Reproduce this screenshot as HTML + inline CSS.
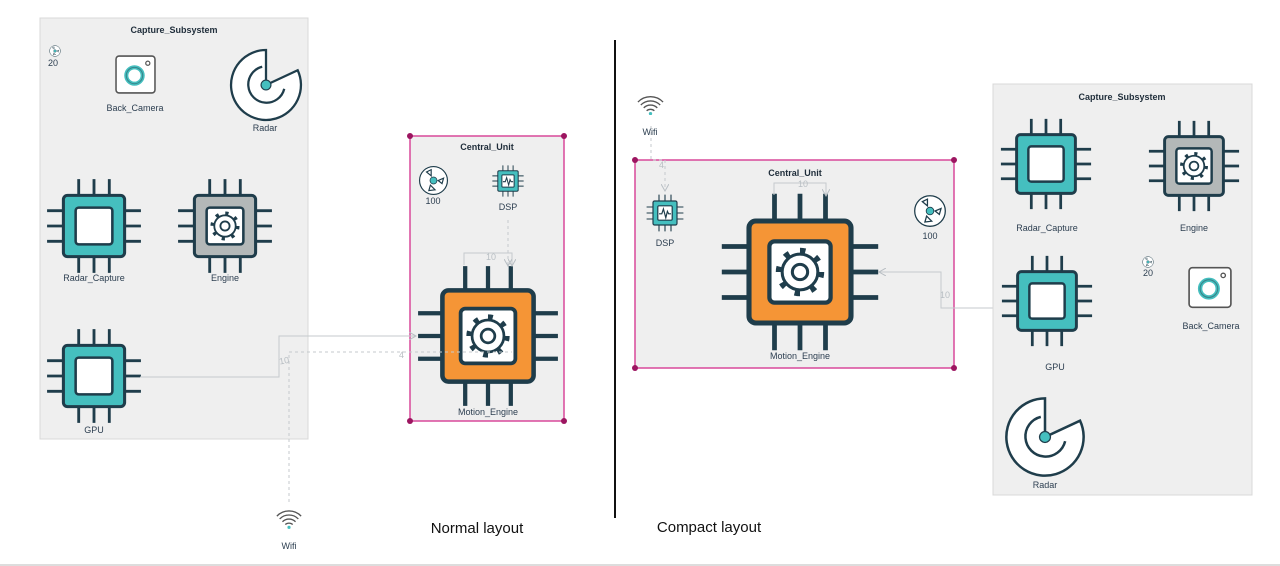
<!DOCTYPE html>
<html><head><meta charset="utf-8"><style>
html,body{margin:0;padding:0;background:#fff;}
svg{display:block;font-family:"Liberation Sans",sans-serif;}
.lbl{font-size:9px;fill:#2c3e50;text-anchor:middle;}
.ttl{font-size:9px;font-weight:bold;fill:#1f2d3a;text-anchor:middle;}
.el{font-size:9px;fill:#b8bec3;}
</style></head><body>
<svg width="1280" height="566" viewBox="0 0 1280 566" xmlns="http://www.w3.org/2000/svg">
<defs>
<g id="pins" stroke="#1f3d4b" stroke-width="2.8" fill="none">
  <path d="M35 4V20M50 4V20M65 4V20M35 80V96M50 80V96M65 80V96M4 35H20M4 50H20M4 65H20M80 35H96M80 50H96M80 65H96"/>
</g>
<g id="gear" fill="none" stroke="#1f3d4b">
  <circle cx="50" cy="50" r="12.5" stroke-width="3.5" stroke-dasharray="3.2 6.6"/>
  <circle cx="50" cy="50" r="10.5" stroke-width="1.8" fill="#fff"/>
  <circle cx="50" cy="50" r="4.5" stroke-width="1.8"/>
</g>
<symbol id="chipT" viewBox="0 0 100 100"><use href="#pins"/><rect x="20" y="20" width="60" height="60" rx="4" fill="#45bfbf" stroke="#1f3d4b" stroke-width="3"/><rect x="32" y="32" width="36" height="36" rx="3" fill="#fff" stroke="#1f3d4b" stroke-width="2.5"/></symbol>
<symbol id="chipG" viewBox="0 0 100 100"><use href="#pins"/><rect x="20" y="20" width="60" height="60" rx="4" fill="#b3b8b8" stroke="#1f3d4b" stroke-width="3"/><rect x="32" y="32" width="36" height="36" rx="3" fill="#fff" stroke="#1f3d4b" stroke-width="2.5"/><use href="#gear"/></symbol>
<symbol id="chipO" viewBox="0 0 100 100"><use href="#pins"/><rect x="20" y="20" width="60" height="60" rx="4" fill="#f59536" stroke="#1f3d4b" stroke-width="3"/><rect x="32" y="32" width="36" height="36" rx="3" fill="#fff" stroke="#1f3d4b" stroke-width="2.5"/><use href="#gear"/></symbol>
<symbol id="chipD" viewBox="0 0 100 100"><use href="#pins"/><rect x="20" y="20" width="60" height="60" rx="4" fill="#45bfbf" stroke="#1f3d4b" stroke-width="3"/><rect x="32" y="32" width="36" height="36" rx="3" fill="#fff" stroke="#1f3d4b" stroke-width="3"/><path d="M35 52H42L46 40L52 62L56 46L59 52H65" fill="none" stroke="#1f3d4b" stroke-width="3"/></symbol>
<symbol id="radar" viewBox="-50 -50 100 100">
  <path d="M0 -46 L0 0 L41.7 -19.4 A46 46 0 1 1 0 -46 Z" fill="#fff" stroke="#1f3d4b" stroke-width="3"/>
  <path d="M -5 -24 A 24 24 0 1 0 24 5" fill="none" stroke="#1f3d4b" stroke-width="3"/>
  <circle r="6.5" fill="#45bfbf" stroke="#1f3d4b" stroke-width="1.5"/>
</symbol>
<symbol id="cam" viewBox="0 0 40 38">
  <rect x="1" y="1" width="38" height="36" rx="3" fill="#fff" stroke="#555" stroke-width="1.5"/>
  <circle cx="19" cy="20" r="8" fill="none" stroke="#45bfbf" stroke-width="4"/>
  <circle cx="19" cy="20" r="8" fill="none" stroke="#2a4a55" stroke-width="1" opacity=".5"/>
  <circle cx="32" cy="8" r="2" fill="none" stroke="#555" stroke-width="1.2"/>
</symbol>
<symbol id="fan" viewBox="-20 -20 40 40">
  <circle r="18" fill="#fff" stroke="#1f3d4b" stroke-width="1.5"/>
  <path d="M-3 -6 L-9 -11 L-3 -14 Z M6 0 L13 -3 L11 4 Z M-4 6 L-6 13 L2 12 Z" fill="#fff" stroke="#1f3d4b" stroke-width="1.5"/>
  <circle r="4.5" fill="#45bfbf" stroke="#1f3d4b" stroke-width="1"/>
</symbol>
<symbol id="wifi" viewBox="-15 -12 30 22">
  <g fill="none" stroke="#555" stroke-width="1.4">
    <path d="M-13 -3 A18 18 0 0 1 13 -3"/><path d="M-10 0 A14 14 0 0 1 10 0"/><path d="M-7 3 A10 10 0 0 1 7 3"/><path d="M-4 6 A6 6 0 0 1 4 6"/>
  </g>
  <circle cx="0" cy="9" r="1.7" fill="#45bfbf"/>
</symbol>
<marker id="ar" markerWidth="8" markerHeight="8" refX="6" refY="4" orient="auto" markerUnits="userSpaceOnUse"><path d="M0 0L7 4L0 8" fill="none" stroke="#b8bec3" stroke-width="1"/></marker>
</defs>

<rect x="40" y="18" width="268" height="421" fill="#efefef" stroke="#d8d8d8"/>
<text class="ttl" x="174" y="33">Capture_Subsystem</text>
<use href="#fan" x="49" y="45" width="12" height="12"/>
<text class="lbl" x="53" y="66">20</text>
<use href="#cam" x="115" y="55" width="41" height="39"/>
<text class="lbl" x="135" y="111">Back_Camera</text>
<use href="#radar" x="228" y="47" width="76" height="76"/>
<text class="lbl" x="265" y="131">Radar</text>
<use href="#chipT" x="43" y="175" width="102" height="102"/>
<text class="lbl" x="94" y="281">Radar_Capture</text>
<use href="#chipG" x="174" y="175" width="102" height="102"/>
<text class="lbl" x="225" y="281">Engine</text>
<use href="#chipT" x="43" y="325" width="102" height="102"/>
<text class="lbl" x="94" y="433">GPU</text>

<rect x="410" y="136" width="154" height="285" fill="#efefef" stroke="#d9489a" stroke-width="1.5"/>
<g fill="#9c1560"><circle cx="410" cy="136" r="3"/><circle cx="564" cy="136" r="3"/><circle cx="410" cy="421" r="3"/><circle cx="564" cy="421" r="3"/></g>
<text class="ttl" x="487" y="150">Central_Unit</text>
<use href="#fan" x="418" y="165" width="31" height="31"/>
<text class="lbl" x="433" y="204">100</text>
<use href="#chipD" x="491" y="164" width="34" height="34"/>
<text class="lbl" x="508" y="210">DSP</text>
<use href="#chipO" x="412" y="260" width="152" height="152"/>
<text class="lbl" x="488" y="415">Motion_Engine</text>

<path d="M464 265V253H512V265" fill="none" stroke="#c5cacd" marker-end="url(#ar)"/>
<text class="el" x="486" y="260">10</text>
<path d="M508 220V265" fill="none" stroke="#c5cacd" stroke-dasharray="3 3" marker-end="url(#ar)"/>
<path d="M140 377H279V336H415" fill="none" stroke="#c5cacd" marker-end="url(#ar)"/>
<text class="el" x="279" y="364" transform="rotate(-10 282 360)">10</text>
<path d="M289 502V352H512" fill="none" stroke="#c5cacd" stroke-dasharray="3 3"/>
<text class="el" x="399" y="358">4</text>
<use href="#wifi" x="275" y="507" width="28" height="22"/>
<text class="lbl" x="289" y="549">Wifi</text>

<line x1="615" y1="40" x2="615" y2="518" stroke="#111" stroke-width="2"/>
<text x="477" y="533" font-size="15" text-anchor="middle" fill="#111">Normal layout</text>
<text x="709" y="532" font-size="15" text-anchor="middle" fill="#111">Compact layout</text>

<rect x="635" y="160" width="319" height="208" fill="#efefef" stroke="#d9489a" stroke-width="1.5"/>
<g fill="#9c1560"><circle cx="635" cy="160" r="3"/><circle cx="954" cy="160" r="3"/><circle cx="635" cy="368" r="3"/><circle cx="954" cy="368" r="3"/></g>
<text class="ttl" x="795" y="176">Central_Unit</text>
<use href="#wifi" x="636" y="93" width="29" height="22"/>
<text class="lbl" x="650" y="135">Wifi</text>
<path d="M651 126V160H665V190" fill="none" stroke="#c5cacd" stroke-dasharray="3 3" marker-end="url(#ar)"/>
<text class="el" x="659" y="168">4</text>
<use href="#chipD" x="645" y="193" width="40" height="40"/>
<text class="lbl" x="665" y="246">DSP</text>
<use href="#fan" x="913" y="194" width="34" height="34"/>
<text class="lbl" x="930" y="239">100</text>
<use href="#chipO" x="715" y="187" width="170" height="170"/>
<text class="lbl" x="800" y="359">Motion_Engine</text>
<path d="M774 195V183H826V195" fill="none" stroke="#c5cacd" marker-end="url(#ar)"/>
<text class="el" x="798" y="187">10</text>
<path d="M1002 308H941V272H880" fill="none" stroke="#c5cacd" marker-end="url(#ar)"/>
<text class="el" x="940" y="298">10</text>

<rect x="993" y="84" width="259" height="411" fill="#efefef" stroke="#d8d8d8"/>
<text class="ttl" x="1122" y="100">Capture_Subsystem</text>
<use href="#chipT" x="997" y="115" width="98" height="98"/>
<text class="lbl" x="1047" y="231">Radar_Capture</text>
<use href="#chipG" x="1145" y="117" width="98" height="98"/>
<text class="lbl" x="1194" y="231">Engine</text>
<use href="#fan" x="1142" y="256" width="12" height="12"/>
<text class="lbl" x="1148" y="276">20</text>
<use href="#cam" x="1188" y="266" width="44" height="43"/>
<text class="lbl" x="1211" y="329">Back_Camera</text>
<use href="#chipT" x="998" y="252" width="98" height="98"/>
<text class="lbl" x="1055" y="370">GPU</text>
<use href="#radar" x="1003" y="395" width="84" height="84"/>
<text class="lbl" x="1045" y="488">Radar</text>

<line x1="0" y1="565" x2="1280" y2="565" stroke="#bbb"/>
</svg>
</body></html>
